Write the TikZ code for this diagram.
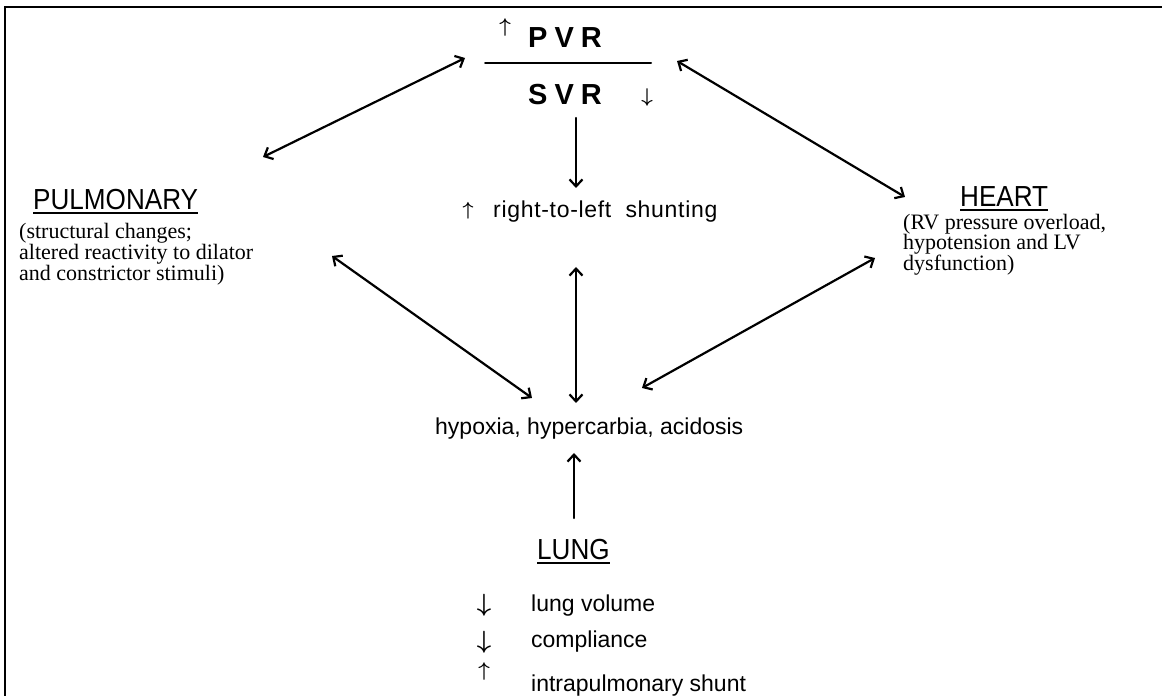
\documentclass[tikz,border=0pt]{standalone}
\usepackage{graphicx}
\usepackage{fontspec}
\setmainfont{Liberation Sans}
\newfontfamily\notefont{Liberation Serif}
\usepackage{tkz-euclide}
\usetikzlibrary{arrows.meta}
\newcommand\upar[1]{\scalebox{#1}{\boldmath$\uparrow$}}
\newcommand\downar[1]{\scalebox{#1}{\boldmath$\downarrow$}}
\tikzset{
  dbl/.style={line width=2.2pt,{Straight Barb[length=7pt,width=13pt]}-{Straight Barb[length=7pt,width=13pt]}},
  sgl/.style={line width=2.2pt,-{Straight Barb[length=7pt,width=13pt]}},
  bar/.style={line width=2pt},
  heading/.style={inner sep=0pt,anchor=base west,font=\addfontfeature{FakeStretch=0.9}\fontsize{29}{32}\selectfont},
  ratio/.style={inner sep=0pt,anchor=base west,font=\bfseries\fontsize{29}{32}\selectfont},
  txt/.style={inner sep=0pt,anchor=base west,font=\fontsize{23}{26}\selectfont},
  sym/.style={inner sep=0pt},
  note/.style={inner sep=0pt,anchor=north west,align=left,font=\notefont\fontsize{22}{20}\selectfont}
}

\begin{document}
\begin{tikzpicture}[x=1pt,y=1pt]
  \useasboundingbox (0,0) rectangle (1162,696);

  % frame
  \tkzDefPoint(5,0){fa}
  \tkzDefPoint(5,689){fb}
  \tkzDefPoint(1162,689){fc}
  \draw[bar] (fa)--(fb)--(fc);

  % PVR / SVR
  \node[sym] (pvrup) at (505,668) {\upar{2.0}};
  \node[ratio] (pvr) at (528,648) {P\kern7pt V\kern7pt R};
  \node[ratio] (svr) at (528,591) {S\kern7pt V\kern7pt R};
  \node[sym] (svrdown) at (647,598) {\downar{2.0}};
  \tkzDefPoint(485,633){la}
  \tkzDefPoint(651,633){lb}
  \tkzDrawSegment[bar](la,lb)

  \node[sym] (shuntup) at (468,485) {\upar{1.9}};
  \node[txt,font=\addfontfeature{LetterSpace=3}\fontsize{23}{26}\selectfont] (shunt) at (493,478) {right-to-left\ \ shunting};
  \node[txt] (hyp) at (435,261) {hypoxia, hypercarbia, acidosis};

  \node[heading] (pulm) at (33,486) {PULMONARY};
  \node[note] (pulmnote) at (19,473) {(structural changes;\\altered reactivity to dilator\\and constrictor stimuli)};
  \node[heading] (heart) at (960,489) {HEART};
  \node[note] (heartnote) at (903,482) {(RV pressure overload,\\hypotension and LV\\dysfunction)};
  \node[heading] (lung) at (537,136) {LUNG};
  \draw[bar] ([yshift=-3pt]pulm.base west) -- ([yshift=-3pt]pulm.base east);
  \draw[bar] ([yshift=-3pt]heart.base west) -- ([yshift=-3pt]heart.base east);
  \draw[bar] ([yshift=-3pt]lung.base west) -- ([yshift=-3pt]lung.base east);

  \node[sym] (volarr) at (484,91) {\downar{2.5}};
  \node[txt] (vol) at (531,84) {lung volume};
  \node[sym] (comparr) at (484,54) {\downar{2.5}};
  \node[txt] (comp) at (531,48) {compliance};
  \node[sym] (shuntarr) at (484,24) {\upar{2.0}};
  \node[txt] (intra) at (531,4) {intrapulmonary shunt};

  % arrow ends
  \tkzDefPoint(263,539){pa}
  \tkzDefPoint(465,638){ra}
  \tkzDefPoint(677,635){rb}
  \tkzDefPoint(905,499){ha}
  \tkzDefPoint(576,578){rc}
  \tkzDefPoint(576,508){sa}
  \tkzDefPoint(576,429){sb}
  \tkzDefPoint(576,293){xb}
  \tkzDefPoint(332,440){pb}
  \tkzDefPoint(532,298){xa}
  \tkzDefPoint(875,438){hb}
  \tkzDefPoint(642,308){xc}
  \tkzDefPoint(574,178){lg}
  \tkzDefPoint(574,243){xd}

  \tkzDrawSegments[dbl](pa,ra rb,ha pb,xa sb,xb hb,xc)
  \tkzDrawSegments[sgl](rc,sa lg,xd)

\end{tikzpicture}
\end{document}
